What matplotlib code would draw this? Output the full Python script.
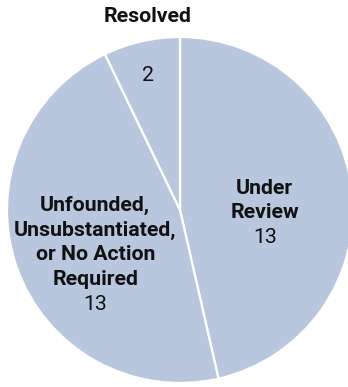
import matplotlib
matplotlib.use("Agg")
import matplotlib.pyplot as plt

categories = ["Under\nReview", "Unfounded,\nUnsubstantiated,\nor No Action\nRequired", "Resolved"]
counts = [13, 13, 2]

plt.rcParams["font.family"] = ["Roboto", "DejaVu Sans"]

W, H = 348, 387
fig = plt.figure(figsize=(W / 100, H / 100), dpi=100)
# axes square in pixels, pie spans x 7..353, y 37..383 (from top)
ax = fig.add_axes([7 / W, (H - 383) / H, 346 / W, 346 / H])

wedges, _ = ax.pie(
    counts,
    startangle=90,
    counterclock=False,
    colors=["#b8c7de"] * len(counts),
    wedgeprops={"edgecolor": "white", "linewidth": 1.6},
    radius=1.0,
)
for w in wedges:
    w.set_clip_on(False)
ax.set_xlim(-1, 1)
ax.set_ylim(-1, 1)
ax.set_aspect("equal")
ax.axis("off")

text_color = "#111111"
fs = 15.3
step = 0.142
# label placement (fraction of radius)
label_pos = [(0.49, -0.015), (-0.49, -0.26), (-0.185, 0.78)]
for i, (name, n) in enumerate(zip(categories, counts)):
    x, y = label_pos[i]
    if i == 2:
        ax.text(x, 1.12, name, ha="center", va="center", fontsize=fs,
                fontweight="bold", color=text_color, clip_on=False)
        ax.text(x, y, str(n), ha="center", va="center", fontsize=fs, color=text_color)
    else:
        nlines = name.count("\n") + 1
        top = y + step * nlines / 2
        for j, line in enumerate(name.split("\n")):
            ax.text(x, top - step * j, line, ha="center", va="center", fontsize=fs,
                    fontweight="bold", color=text_color)
        ax.text(x, top - step * nlines, str(n), ha="center", va="center",
                fontsize=fs, color=text_color)

fig.savefig("out.png", dpi=100)
